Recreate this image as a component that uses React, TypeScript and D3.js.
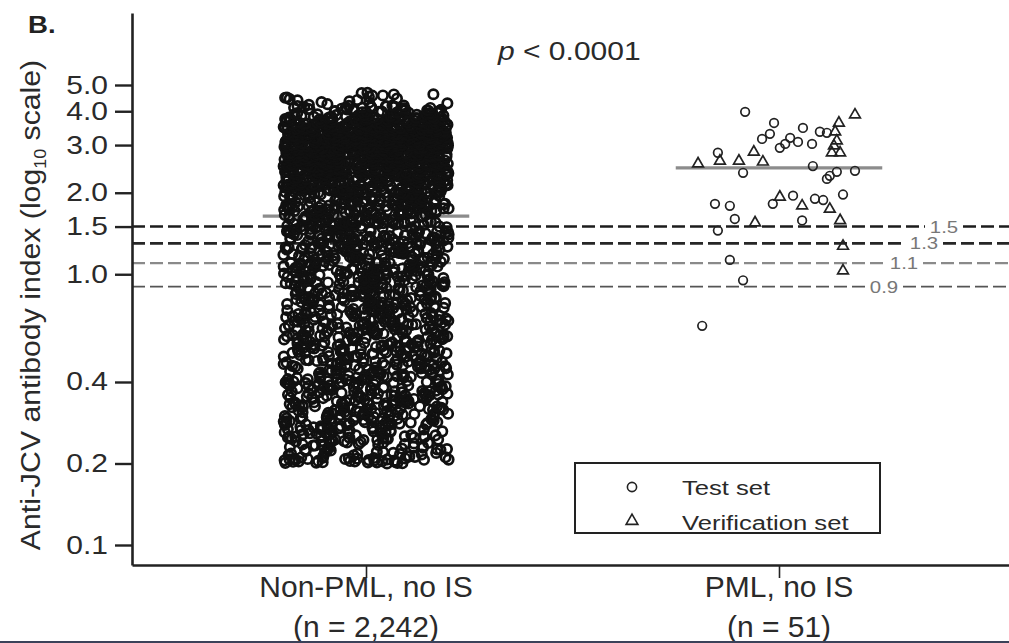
import React, { useEffect, useRef } from 'react';
import * as d3 from 'd3';

const W = 1009;
const H = 643;

// y axis ticks (log10 scale)
const yTicks = [0.1, 0.2, 0.4, 1.0, 1.5, 2.0, 3.0, 4.0, 5.0];

// groups on the x axis
const groups = ['Non-PML, no IS', 'PML, no IS'];
const groupCounts = ['(n = 2,242)', '(n = 51)'];

// cut-off reference lines and group medians
const cutoffs = [1.5, 1.3, 1.1, 0.9];
const medians = [1.64, 2.47];

// Non-PML strip: too dense to read one by one, so read as counts per band
const nonPmlEdges = [0.2, 0.21, 0.24, 0.28, 0.33, 0.4, 0.5, 0.6, 0.7, 0.85, 1.0, 1.2, 1.4, 1.7, 2.0, 2.3, 2.6, 2.9, 3.2, 3.5, 3.8, 4.2, 4.7];
const nonPmlCounts = [32, 42, 70, 80, 95, 105, 90, 80, 100, 85, 100, 95, 120, 125, 140, 170, 190, 190, 160, 95, 58, 20];

// PML points: [group position, index value]
const pmlTest = [
  [1.918, 3.98], [1.988, 3.62], [1.978, 3.3], [1.959, 3.16], [2.058, 3.47], [2.027, 3.19],
  [2.046, 3.08], [2.015, 3.03], [2.002, 2.93], [2.08, 3.03], [2.099, 3.36], [2.116, 3.33],
  [1.852, 2.81], [1.913, 2.37], [2.082, 2.51], [2.184, 2.41], [2.14, 2.39], [2.123, 2.31],
  [2.116, 2.25], [1.845, 1.82], [1.881, 1.79], [1.985, 1.82], [2.034, 1.95], [2.087, 1.9],
  [2.107, 1.88], [2.155, 1.97], [1.893, 1.6], [1.852, 1.45], [2.056, 1.58], [1.881, 1.13],
  [1.913, 0.95], [1.814, 0.645],
];
const pmlVerification = [
  [2.184, 3.88], [2.145, 3.62], [2.136, 3.36], [2.14, 3.11], [2.133, 2.98], [2.128, 2.81],
  [2.148, 2.81], [1.804, 2.56], [1.903, 2.62], [1.939, 2.83], [1.961, 2.6], [1.857, 2.62],
  [2.002, 1.93], [2.056, 1.79], [2.123, 1.74], [1.942, 1.55], [2.148, 1.58], [2.155, 1.27],
  [2.155, 1.03],
];

const legendLabels = ['Test set', 'Verification set'];

const FONT = '"Liberation Sans", Arial, Helvetica, sans-serif';
const SX = 1.2; // type in the original is set wide
const INK = '#2a2a2a';

// deterministic scatter inside a band (jitter only, not data)
const hash = (n: number) => {
  let t = (n + 0x6d2b79f5) | 0;
  t = Math.imul(t ^ (t >>> 15), t | 1);
  t ^= t + Math.imul(t ^ (t >>> 7), t | 61);
  return ((t ^ (t >>> 14)) >>> 0) / 4294967296;
};

export default function App() {
  const svgRef = useRef<SVGSVGElement>(null);

  useEffect(() => {
    const svg = d3.select(svgRef.current);
    svg.selectAll('*').remove();

    svg.append('rect').attr('width', W).attr('height', H).attr('fill', '#fff');

    // scales
    const y = d3.scaleLog().domain([0.1, 5]).range([545, 85]);
    const yLo = y.invert(565);
    const yHi = y.invert(13);
    y.domain([yLo, yHi]).range([565, 13]);

    const x = d3.scaleLinear().domain([1, 2]).range([366, 779]);
    const xAxisScale = d3.scaleLinear().domain([x.invert(132), x.invert(W)]).range([132, W]);

    const wideText = (sel: any, px: number, py: number, size: number, anchor = 'start', sx = SX) =>
      sel.append('text')
        .attr('transform', `translate(${px},${py}) scale(${sx},1)`)
        .attr('text-anchor', anchor)
        .attr('font-family', FONT)
        .attr('font-size', size)
        .attr('fill', INK);

    // cut-off dashed lines with their labels
    const cutStyle = [
      { c: '#1c1c1c', w: 2.6 },
      { c: '#262626', w: 2.6 },
      { c: '#8a8a8a', w: 2.2 },
      { c: '#555', w: 1.8 },
    ];
    cutoffs.forEach((v, i) => {
      const cy = y(v);
      const lx = 944 - 20 * i;
      const gap = 19;
      [[132, lx - gap], [lx + gap, W]].forEach(([a, b]) => {
        svg.append('line')
          .attr('x1', a).attr('x2', b).attr('y1', cy).attr('y2', cy)
          .attr('stroke', cutStyle[i].c)
          .attr('stroke-width', cutStyle[i].w)
          .attr('stroke-dasharray', '13,5');
      });
      wideText(svg, lx, cy + 6, 17, 'middle').attr('fill', '#777').text(d3.format('.1f')(v));
    });

    // medians
    medians.forEach((m, i) => {
      svg.append('line')
        .attr('x1', x(i + 1 - 0.25)).attr('x2', x(i + 1 + 0.25))
        .attr('y1', y(m)).attr('y2', y(m))
        .attr('stroke', '#8c8c8c').attr('stroke-width', 3.4);
    });

    // place each band's count across the band, stratified, with jitter across the strip
    const nonPml: [number, number][] = [];
    let k = 0;
    nonPmlCounts.forEach((n, b) => {
      const lo = nonPmlEdges[b];
      const hi = nonPmlEdges[b + 1];
      for (let j = 0; j < n; j++, k++) {
        const u = (j + hash(2 * k)) / n;
        const w = hash(2 * k + 1);
        nonPml.push([1 + (w * 2 - 1) * 0.2, lo * Math.pow(hi / lo, u)]);
      }
    });

    svg.append('g').selectAll('circle')
      .data(nonPml)
      .enter()
      .append('circle')
      .attr('cx', d => x(d[0]))
      .attr('cy', d => y(d[1]))
      .attr('r', 4.7)
      .attr('fill', 'none')
      .attr('stroke', '#111')
      .attr('stroke-width', 2.7);

    svg.append('g').selectAll('circle')
      .data(pmlTest)
      .enter()
      .append('circle')
      .attr('cx', d => x(d[0]))
      .attr('cy', d => y(d[1]))
      .attr('r', 4.3)
      .attr('fill', 'none')
      .attr('stroke', '#222')
      .attr('stroke-width', 1.7);

    const tri = d3.symbol(d3.symbolTriangle, 50);
    svg.append('g').selectAll('path')
      .data(pmlVerification)
      .enter()
      .append('path')
      .attr('d', tri)
      .attr('transform', d => `translate(${x(d[0])},${y(d[1])})`)
      .attr('fill', 'none')
      .attr('stroke', '#222')
      .attr('stroke-width', 1.7);

    // y axis
    const yAxis = svg.append('g')
      .attr('transform', 'translate(132,0)')
      .call(d3.axisLeft(y).tickValues(yTicks).tickSize(17).tickSizeOuter(0).tickFormat(d3.format('.1f')) as any);
    yAxis.select('.domain').attr('stroke', '#222').attr('stroke-width', 2.6);
    yAxis.selectAll('.tick line').attr('stroke', '#222').attr('stroke-width', 2.4);
    yAxis.selectAll('.tick text')
      .attr('x', -24 / SX)
      .attr('transform', `scale(${SX},1)`)
      .attr('font-family', FONT)
      .attr('font-size', 25)
      .attr('fill', INK);

    // x axis
    const xAxis = svg.append('g')
      .attr('transform', 'translate(0,565)')
      .call(d3.axisBottom(xAxisScale).tickValues([1, 2]).tickSize(13).tickSizeOuter(0).tickFormat(() => '') as any);
    xAxis.select('.domain').attr('stroke', '#222').attr('stroke-width', 2.6);
    xAxis.selectAll('.tick line').attr('stroke', '#222').attr('stroke-width', 1.6);

    groups.forEach((g, i) => {
      wideText(svg, x(i + 1), 597, 30, 'middle', 1).text(g);
      wideText(svg, x(i + 1), 637, 30, 'middle', 1).text(groupCounts[i]);
    });

    // y title
    const title = svg.append('text')
      .attr('transform', 'translate(40,305) rotate(-90) scale(1.12,1)')
      .attr('text-anchor', 'middle')
      .attr('font-family', FONT)
      .attr('font-size', 27)
      .attr('fill', INK);
    title.append('tspan').text('Anti-JCV antibody index (log');
    title.append('tspan').attr('font-size', 16).attr('dy', 6).text('10');
    title.append('tspan').attr('dy', -6).text(' scale)');

    // panel letter and p-value
    wideText(svg, 28, 33, 23).attr('font-weight', 'bold').attr('fill', '#222').text('B.');
    const p = wideText(svg, 498, 60, 25);
    p.append('tspan').attr('font-style', 'italic').text('p');
    p.append('tspan').text(' < 0.0001');

    // legend
    svg.append('rect')
      .attr('x', 575).attr('y', 463).attr('width', 305).attr('height', 70)
      .attr('fill', '#fff').attr('stroke', '#222').attr('stroke-width', 2);
    svg.append('circle')
      .attr('cx', 632).attr('cy', 487).attr('r', 4.6)
      .attr('fill', 'none').attr('stroke', '#222').attr('stroke-width', 1.6);
    svg.append('path')
      .attr('d', d3.symbol(d3.symbolTriangle, 60)())
      .attr('transform', 'translate(632,521)')
      .attr('fill', 'none').attr('stroke', '#222').attr('stroke-width', 1.6);
    legendLabels.forEach((l, i) => {
      wideText(svg, 682, 495 + 35 * i, 21, 'start', 1.22).text(l);
    });

    // scanned page edge at the bottom
    svg.append('rect').attr('x', 0).attr('y', 641).attr('width', W).attr('height', 2).attr('fill', '#3b4259');
  }, []);

  return (
    <svg
      ref={svgRef}
      width={W}
      height={H}
      style={{ position: 'absolute', left: 0, top: 0, display: 'block' }}
    />
  );
}
